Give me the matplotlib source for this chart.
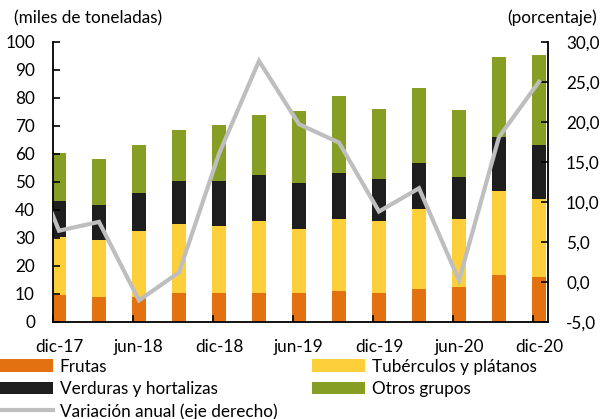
import matplotlib
matplotlib.use('Agg')
import matplotlib.pyplot as plt
from matplotlib.ticker import FuncFormatter, FixedLocator
import numpy as np

plt.rcParams['font.family'] = ['Lato', 'DejaVu Sans']

periods = ['dic-17', 'mar-18', 'jun-18', 'sep-18', 'dic-18', 'mar-19', 'jun-19',
           'sep-19', 'dic-19', 'mar-20', 'jun-20', 'sep-20', 'dic-20']
frutas = [9.8, 8.9, 8.9, 10.4, 10.4, 10.4, 10.4, 11.2, 10.5, 11.9, 12.6, 16.9, 16.1]
tuberculos = [20.6, 20.2, 23.7, 24.4, 23.7, 25.8, 22.8, 25.6, 25.6, 28.5, 24.2, 29.9, 27.8]
verduras = [12.7, 12.7, 13.5, 15.5, 16.2, 16.3, 16.3, 16.4, 15.0, 16.4, 15.0, 19.3, 19.3]
otros = [17.3, 16.5, 17.2, 18.1, 20.1, 21.4, 25.9, 27.3, 25.0, 26.6, 23.7, 28.5, 32.2]
# variacion anual, el primer valor es sep-17 (queda fuera del area visible)
variacion = [18.7, 6.4, 7.5, -2.3, 1.2, 16.0, 27.6, 19.7, 17.4, 8.8, 11.7, 0.2, 18.1, 25.0]

c_frutas = '#E3710F'
c_tub = '#FDD03A'
c_verd = '#1E1E1E'
c_otros = '#869E23'
c_var = '#BEBEBE'
fs = 12.3

fig = plt.figure(figsize=(6.02, 4.19), dpi=100)
ax = fig.add_axes([53 / 602, 1 - 322 / 419, 495 / 602, 280.3 / 419])

x = np.arange(len(periods))
w = 0.33
b1 = np.array(frutas)
b2 = b1 + np.array(tuberculos)
b3 = b2 + np.array(verduras)
h_fr = ax.bar(x, frutas, w, color=c_frutas, label='Frutas')
h_tu = ax.bar(x, tuberculos, w, bottom=b1, color=c_tub, label='Tubérculos y plátanos')
h_ve = ax.bar(x, verduras, w, bottom=b2, color=c_verd, label='Verduras y hortalizas')
h_ot = ax.bar(x, otros, w, bottom=b3, color=c_otros, label='Otros grupos')

ax.set_ylim(0, 100)
ax.set_yticks(np.arange(0, 101, 10))
ax.set_xlim(-0.15, 12.225)
ax.set_xticks(x[::2])
ax.set_xticklabels(periods[::2])
ax.xaxis.set_minor_locator(FixedLocator(np.arange(-0.15, 12.2, 2)))
ax.tick_params(axis='x', which='major', length=0, pad=12.5, labelsize=fs)
ax.tick_params(axis='x', which='minor', direction='in', length=5, width=1.2)
ax.tick_params(axis='y', direction='in', length=5, width=1.2, labelsize=fs, pad=13)
ax.spines['top'].set_visible(False)
ax.spines['right'].set_visible(False)
ax.spines['left'].set_linewidth(1.3)
ax.spines['bottom'].set_linewidth(1.3)

ax2 = ax.twinx()
xl = np.arange(-1, len(periods))
h_va, = ax2.plot(xl, variacion, color=c_var, lw=3, solid_joinstyle='miter',
                 label='Variación anual (eje derecho)')
ax2.set_ylim(-5, 30)
ax2.set_yticks(np.arange(-5, 31, 5))
ax2.yaxis.set_major_formatter(FuncFormatter(lambda v, p: f'{v:.1f}'.replace('.', ',')))
ax2.tick_params(axis='y', direction='in', length=5, width=1.2, labelsize=fs, pad=13)
ax2.spines['top'].set_visible(False)
ax2.spines['left'].set_visible(False)
ax2.spines['bottom'].set_visible(False)
ax2.spines['right'].set_linewidth(1.3)
ax2.set_xlim(-0.15, 12.225)

fig.text(14 / 602, 1 - 18 / 419, '(miles de toneladas)', fontsize=fs, va='center')
fig.text(597 / 602, 1 - 18 / 419, '(porcentaje)', fontsize=fs, va='center', ha='right')

fig.legend([h_fr, h_ve, h_va, h_tu, h_ot],
           ['Frutas', 'Verduras y hortalizas', 'Variación anual (eje derecho)',
            'Tubérculos y plátanos', 'Otros grupos'],
           loc='upper left', bbox_to_anchor=(-0.003, 1 - 357 / 419), ncol=2, frameon=False,
           fontsize=fs, handlelength=3.1, handleheight=0.75, handletextpad=0.4,
           labelspacing=0.36, columnspacing=2.05, borderaxespad=0, borderpad=0.1)

fig.savefig('out.png', dpi=100)
